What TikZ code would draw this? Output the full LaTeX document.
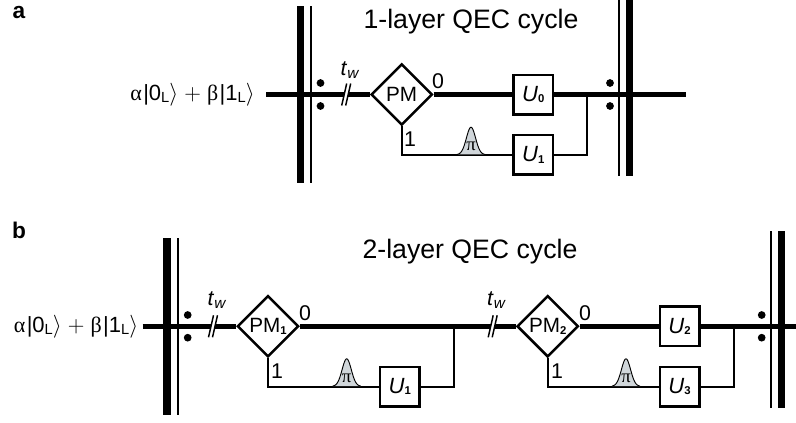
\documentclass[tikz,border=0pt]{standalone}
\usepackage{fontspec}
\usetikzlibrary{shapes.geometric}
\setmainfont{Liberation Sans}
\newfontfamily\symf{Liberation Serif}
\definecolor{pulsefill}{RGB}{208,214,218}
\newcommand{\smallsub}[1]{\raisebox{-1.2pt}{\fontsize{8.5}{8.5}\selectfont\textbf{#1}}}
\newcommand{\ulabel}[1]{\textit{U}\smallsub{#1}}
\newcommand{\twlabel}{\textit{t}\raisebox{-2pt}{\fontsize{11.5}{11.5}\selectfont\textit{w}}}
\newcommand{\statetext}{{\symf α}\kern1pt|0\raisebox{-1.5pt}{\fontsize{11}{11}\selectfont L}$\rangle$ $+$ {\symf β}\kern1pt|1\raisebox{-1.5pt}{\fontsize{11}{11}\selectfont L}$\rangle$}
\tikzset{
  x=0.75pt,y=-0.75pt,
  heavy/.style={line width=4.2pt},
  thin wire/.style={line width=1.5pt},
  thickbar/.style={fill=black,inner sep=0pt,minimum width=5.6pt},
  thinbar/.style={fill=black,inner sep=0pt,minimum width=1.8pt},
  dotmark/.style={circle,fill=black,inner sep=0pt,minimum size=5.8pt},
  pm/.style={diamond,aspect=1,draw=black,line width=1.9pt,fill=white,inner sep=0pt,minimum size=46pt,font=\fontsize{15.5}{15.5}\selectfont},
  ubox/.style={rectangle,draw=black,line width=2pt,fill=white,inner sep=0pt,minimum width=29.5pt,minimum height=29.5pt,font=\fontsize{16.5}{16.5}\selectfont},
  lab/.style={inner sep=0pt,font=\fontsize{16}{16}\selectfont},
  title/.style={inner sep=0pt,font=\fontsize{20}{20}\selectfont},
  panel/.style={inner sep=0pt,font=\bfseries\fontsize{17}{17}\selectfont},
  state/.style={inner sep=0pt,font=\fontsize{16.5}{16.5}\selectfont},
  slash/.style={line width=1.1pt},
}
\newcommand{\pulsemark}[2]{%
  \fill[pulsefill] plot[domain=-14:14,samples=41,smooth] ({#1+\x},{#2-27.5*exp(-\x*\x/(2*4.6*4.6))}) -- cycle;
  \draw[line width=0.7pt] plot[domain=-14:14,samples=41,smooth] ({#1+\x},{#2-27.5*exp(-\x*\x/(2*4.6*4.6))});
  \node[inner sep=0pt,font=\fontsize{14}{14}\selectfont\symf] at (#1,#2-8) {π};
}
\newcommand{\cutmark}[2]{%
  \fill[white] (#1-3,#2+3.2) -- (#1+1.1,#2+3.2) -- (#1+3,#2-3.2) -- (#1-1.1,#2-3.2) -- cycle;
  \draw[slash] (#1-4.5,#2+11) -- (#1+0.5,#2-11);
  \draw[slash] (#1-0.5,#2+11) -- (#1+4.5,#2-11);
}
\begin{document}
\begin{tikzpicture}
\useasboundingbox (0,0) rectangle (796,422);
% panel a
\node[panel] (pa) at (19,13) {a};
\node[title] (ta) at (471,22) {1-layer QEC cycle};
\node[state,anchor=east] (sa) at (255,95) {\statetext};
\coordinate (ain) at (266,94.5);
\coordinate (aout) at (686,94.5);
\node[thickbar,minimum height=133pt] (ab1) at (300.7,94.5) {};
\node[thinbar,minimum height=133pt] (ab2) at (311,94.5) {};
\node[thinbar,minimum height=132pt] (ab3) at (619,88) {};
\node[thickbar,minimum height=132pt] (ab4) at (629.5,88) {};
\node[dotmark] (ad1) at (320.5,83) {};
\node[dotmark] (ad2) at (320.5,106) {};
\node[dotmark] (ad3) at (610,83) {};
\node[dotmark] (ad4) at (610,106) {};
\node[pm] (am) at (401.7,94.5) {PM};
\node[ubox] (au0) at (533.3,94.5) {\ulabel{0}};
\node[ubox] (au1) at (533.3,154.7) {\ulabel{1}};
\coordinate (aj) at (587,94.5);
\draw[heavy] (ain) -- (am.west);
\draw[heavy] (am.east) -- (au0.west);
\draw[heavy] (au0.east) -- (aout);
\draw[thin wire] (am.south) |- (au1.west);
\draw[thin wire] (au1.east) -| (aj);
\node[lab] (a0) at (438,81) {0};
\node[lab] (a1) at (410,139) {1};
\node[lab] (atw) at (350,70) {\twlabel};
\cutmark{346.2}{94.5}
\pulsemark{471}{154.7}
% panel b
\node[panel] (pb) at (19,230) {b};
\node[title] (tb) at (470,252) {2-layer QEC cycle};
\node[state,anchor=east] (sb) at (138.5,327) {\statetext};
\coordinate (bin) at (142.7,326.3);
\coordinate (bout) at (796,326.3);
\node[thickbar,minimum height=133pt] (bb1) at (167,326.3) {};
\node[thinbar,minimum height=133pt] (bb2) at (177.7,326.3) {};
\node[thinbar,minimum height=133pt] (bb3) at (771,319.3) {};
\node[thickbar,minimum height=133pt] (bb4) at (781.5,319.3) {};
\node[dotmark] (bd1) at (187.7,315) {};
\node[dotmark] (bd2) at (187.7,337.7) {};
\node[dotmark] (bd3) at (761.7,315) {};
\node[dotmark] (bd4) at (761.7,337.7) {};
\node[pm] (bm1) at (268,326.3) {PM\smallsub{1}};
\node[pm] (bm2) at (547.7,326.3) {PM\smallsub{2}};
\node[ubox] (bu1) at (399.8,386.5) {\ulabel{1}};
\node[ubox] (bu2) at (679.5,326.3) {\ulabel{2}};
\node[ubox] (bu3) at (679.5,386.5) {\ulabel{3}};
\coordinate (bj1) at (453.7,326.3);
\coordinate (bj2) at (733.7,326.3);
\draw[heavy] (bin) -- (bm1.west);
\draw[heavy] (bm1.east) -- (bm2.west);
\draw[heavy] (bm2.east) -- (bu2.west);
\draw[heavy] (bu2.east) -- (bout);
\draw[thin wire] (bm1.south) |- (bu1.west);
\draw[thin wire] (bu1.east) -| (bj1);
\draw[thin wire] (bm2.south) |- (bu3.west);
\draw[thin wire] (bu3.east) -| (bj2);
\node[lab] (b01) at (305,313) {0};
\node[lab] (b11) at (277,371) {1};
\node[lab] (b02) at (585,313) {0};
\node[lab] (b12) at (557,371) {1};
\node[lab] (btw1) at (217,300) {\twlabel};
\node[lab] (btw2) at (496.5,300) {\twlabel};
\cutmark{213}{326.3}
\cutmark{492.7}{326.3}
\pulsemark{346.7}{386.3}
\pulsemark{626}{386.3}
\end{tikzpicture}
\end{document}
